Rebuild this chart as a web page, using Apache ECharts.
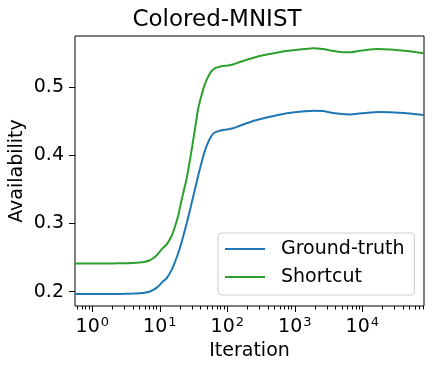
<!DOCTYPE html>
<html>
<head>
  <meta charset="UTF-8">
  <title>Colored-MNIST</title>
  <style>
    html, body { margin: 0; padding: 0; background: #fff; }
    #chart { width: 434px; height: 372px; }
  </style>
  <script src="https://cdn.jsdelivr.net/npm/echarts@6/dist/echarts.min.js"></script>
</head>
<body>
<div id="chart"></div>
<script type="text/javascript">
  const iterations = [0.555, 1, 2, 3, 4, 5, 6, 7, 8, 9, 10, 11, 12.6, 15, 17, 18.7, 21, 25, 29, 33, 37, 41.5, 46, 52, 58, 65,
    77, 90, 108, 125, 150, 200, 300, 450, 700, 1000, 1400, 1900, 2600, 3500, 5000, 6500, 8500, 12000, 17000, 25000,
    35000, 50000, 82000];
  const groundTruth = [0.1965, 0.1965, 0.1966, 0.1968, 0.1972, 0.1978, 0.1986, 0.1998, 0.2025, 0.206, 0.21, 0.2145,
    0.2196, 0.232, 0.245, 0.256, 0.272, 0.30, 0.326, 0.349, 0.370, 0.389, 0.405, 0.419, 0.428, 0.4335,
    0.436, 0.4375, 0.4385, 0.440, 0.443, 0.4475, 0.4528, 0.457, 0.461, 0.463, 0.4645, 0.4655, 0.465, 0.4625,
    0.4605, 0.460, 0.4608, 0.4625, 0.4635, 0.4632, 0.4625, 0.4612, 0.459];
  const shortcut = [0.2415, 0.2415, 0.2415, 0.2417, 0.242, 0.2428, 0.244, 0.2458, 0.249, 0.2535, 0.2587, 0.2635,
    0.269, 0.282, 0.297, 0.311, 0.334, 0.366, 0.402, 0.437, 0.468, 0.488, 0.503, 0.515, 0.523, 0.5276,
    0.530, 0.5312, 0.532, 0.5335, 0.5365, 0.5405, 0.5456, 0.549, 0.5525, 0.5545, 0.556, 0.557, 0.5558, 0.5535,
    0.5512, 0.551, 0.5528, 0.555, 0.5558, 0.5553, 0.5542, 0.5525, 0.5496];
  const xMajorTicks = [1, 10, 100, 1000, 10000];
  const yTicks = [0.2, 0.3, 0.4, 0.5];

  // minor ticks 2..9 x 10^k inside the visible range
  const xMinorTicks = [];
  for (let k = -1; k <= 4; k++) {
    for (let m = 2; m <= 9; m++) {
      const v = m * Math.pow(10, k);
      if (v > 0.555 && v < 82000) xMinorTicks.push(v);
    }
  }

  const font = 'DejaVu Sans';
  const chart = echarts.init(document.getElementById('chart'));

  const option = {
    animation: false,
    title: {
      text: 'Colored-MNIST',
      left: 'center',
      top: 4,
      textStyle: { fontFamily: font, fontSize: 23, fontWeight: 'normal', color: '#000' }
    },
    grid: {
      left: 75, right: 10, top: 36, bottom: 66,
      outerBoundsMode: 'none',
      containLabel: false,
      show: true, borderColor: '#000', borderWidth: 1
    },
    legend: {
      orient: 'vertical',
      left: 218, top: 233,
      padding: [6, 10, 8, 6],
      itemGap: 8,
      itemWidth: 40,
      itemHeight: 20,
      backgroundColor: 'rgba(255,255,255,0.8)',
      borderColor: '#d0d0d0',
      borderWidth: 1,
      borderRadius: 4,
      itemStyle: { opacity: 0 },
      textStyle: { fontFamily: font, fontSize: 19, color: '#000', lineHeight: 20, padding: [0, 0, 0, 11] },
      data: ['Ground-truth', 'Shortcut']
    },
    xAxis: [{
      type: 'log',
      logBase: 10,
      min: 0.555,
      max: 82000,
      name: 'Iteration',
      nameLocation: 'middle',
      nameGap: 36,
      nameMoveOverlap: false,
      nameTextStyle: { fontFamily: font, fontSize: 19, color: '#000' },
      axisLine: { show: false },
      splitLine: { show: false },
      axisTick: { show: true, customValues: xMajorTicks, length: 6, lineStyle: { color: '#000' } },
      axisLabel: {
        customValues: xMajorTicks,
        margin: 10,
        formatter: function (v) {
          return '{b|10}{s|' + Math.round(Math.log10(v)) + '}';
        },
        rich: {
          b: { fontFamily: font, fontSize: 19, color: '#000' },
          s: { fontFamily: font, fontSize: 13, color: '#000', padding: [0, 0, 9, 1] }
        }
      }
    }, {
      type: 'log',
      logBase: 10,
      min: 0.555,
      max: 82000,
      position: 'bottom',
      axisLine: { show: false },
      splitLine: { show: false },
      axisLabel: { show: false },
      axisTick: { show: true, customValues: xMinorTicks, length: 3.5, lineStyle: { color: '#000' } }
    }],
    yAxis: {
      type: 'value',
      min: 0.179,
      max: 0.575,
      name: 'Availability',
      nameLocation: 'middle',
      nameGap: 48,
      nameMoveOverlap: false,
      nameTextStyle: { fontFamily: font, fontSize: 19, color: '#000' },
      axisLine: { show: false },
      splitLine: { show: false },
      axisTick: { show: true, customValues: yTicks, length: 6, lineStyle: { color: '#000' } },
      axisLabel: {
        customValues: yTicks,
        margin: 11,
        fontFamily: font, fontSize: 19, color: '#000',
        formatter: function (v) { return v.toFixed(1); }
      }
    },
    series: [{
      name: 'Ground-truth',
      type: 'line',
      symbol: 'none',
      smooth: 0.2,
      lineStyle: { color: '#1f77b4', width: 2 },
      itemStyle: { color: '#1f77b4' },
      data: iterations.map((it, i) => [it, groundTruth[i]])
    }, {
      name: 'Shortcut',
      type: 'line',
      symbol: 'none',
      smooth: 0.2,
      lineStyle: { color: '#2ca02c', width: 2 },
      itemStyle: { color: '#2ca02c' },
      data: iterations.map((it, i) => [it, shortcut[i]])
    }]
  };

  chart.setOption(option);
</script>
</body>
</html>
